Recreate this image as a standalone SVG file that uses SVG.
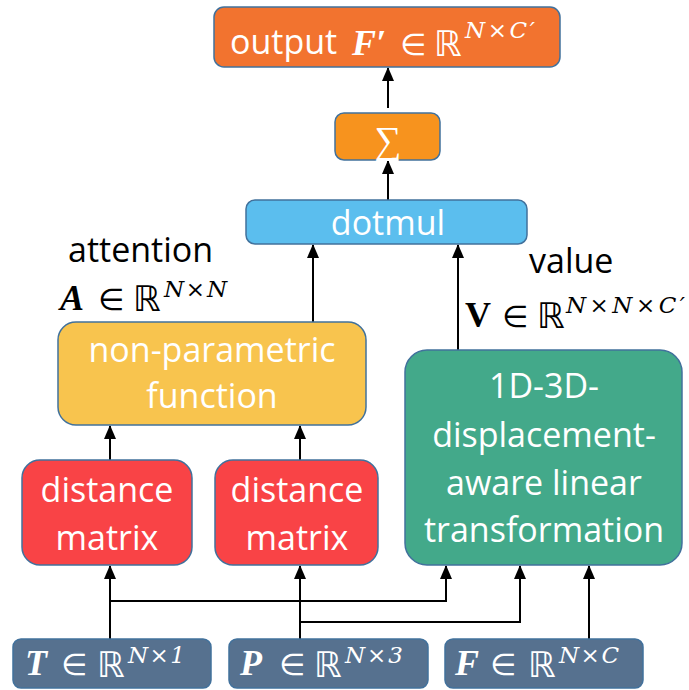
<svg xmlns="http://www.w3.org/2000/svg" width="689" height="690" viewBox="0 0 689 690">
<defs>
<marker id="ah" markerUnits="userSpaceOnUse" markerWidth="14" markerHeight="12" viewBox="0 0 14 12" refX="13" refY="6" orient="auto">
<path d="M0,0 L14,6 L0,12 Z" fill="#000"/>
</marker>
<style>
.box{stroke:#41719C;stroke-width:1.5}
.lbl{font-family:"Open Sans","Noto Sans",sans-serif;font-size:34px;fill:#fff;text-anchor:middle}
.blk{font-family:"Open Sans","Noto Sans",sans-serif;font-size:34px;fill:#000}
.m{font-family:"Liberation Serif","DejaVu Serif",serif;font-weight:bold;font-style:italic;font-size:36px}
.mv{font-family:"Liberation Serif","DejaVu Serif",serif;font-weight:bold;font-size:36px}
.e{font-family:"DejaVu Sans",sans-serif;font-size:30px}
.r{font-family:"DejaVu Sans",sans-serif;font-size:35px}
.sup{font-family:"DejaVu Serif",serif;font-style:italic;font-size:23px}
.w{fill:#fff}
.k{fill:#000}
.c{fill:none;stroke:#000;stroke-width:2}
</style>
</defs>
<g id="connectors">
<line class="c" x1="388" y1="108" x2="388" y2="68" marker-end="url(#ah)"/>
<line class="c" x1="388" y1="200" x2="388" y2="161" marker-end="url(#ah)"/>
<line class="c" x1="313" y1="322" x2="313" y2="245" marker-end="url(#ah)"/>
<line class="c" x1="458" y1="350" x2="458" y2="245" marker-end="url(#ah)"/>
<line class="c" x1="110" y1="460" x2="110" y2="426" marker-end="url(#ah)"/>
<line class="c" x1="300" y1="460" x2="300" y2="426" marker-end="url(#ah)"/>
<line class="c" x1="110" y1="639" x2="110" y2="566" marker-end="url(#ah)"/>
<line class="c" x1="300" y1="639" x2="300" y2="566" marker-end="url(#ah)"/>
<polyline class="c" points="110,601 446,601 446,566" marker-end="url(#ah)"/>
<polyline class="c" points="300,622 520,622 520,566" marker-end="url(#ah)"/>
<line class="c" x1="589" y1="639" x2="589" y2="566" marker-end="url(#ah)"/>
</g>
<g id="output">
<rect class="box" x="214" y="7" width="346" height="60" rx="10" fill="#F2732F"/>
<text class="blk" x="230" y="54" style="fill:#fff">output</text>
<text class="m w" x="352" y="55">F′</text>
<text class="e w" x="400" y="55">∈</text>
<text class="r w" x="434" y="56">ℝ</text>
<text class="sup w" x="465" y="38" textLength="70" lengthAdjust="spacing">N×C′</text>
</g>
<g id="sum">
<rect class="box" x="335" y="113" width="105" height="47" rx="9" fill="#F7931E"/>
<text x="388" y="153" text-anchor="middle" font-family="'Liberation Serif','DejaVu Serif',serif" font-size="38" fill="#fff">∑</text>
</g>
<g id="dotmul">
<rect class="box" x="246" y="200" width="281" height="44" rx="9" fill="#5BBEEE"/>
<text class="lbl" x="388" y="235">dotmul</text>
</g>
<g id="attention-label">
<text class="blk" x="68" y="262">attention</text>
<text class="m k" x="60" y="310">A</text>
<text class="e k" x="98" y="310">∈</text>
<text class="r k" x="133" y="311">ℝ</text>
<text class="sup k" x="164" y="297" textLength="63" lengthAdjust="spacing">N×N</text>
</g>
<g id="value-label">
<text class="blk" x="529" y="273">value</text>
<text class="mv k" x="465" y="327">V</text>
<text class="e k" x="502" y="327">∈</text>
<text class="r k" x="537" y="328">ℝ</text>
<text class="sup k" x="566" y="313" textLength="119" lengthAdjust="spacing">N×N×C′</text>
</g>
<g id="nonparam">
<rect class="box" x="58" y="322" width="308" height="103" rx="18" fill="#F8C44E"/>
<text class="lbl" x="212" y="362">non-parametric</text>
<text class="lbl" x="212" y="408">function</text>
</g>
<g id="linear">
<rect class="box" x="405" y="350" width="277" height="215" rx="22" fill="#43A98A"/>
<text class="lbl" x="544" y="398">1D-3D-</text>
<text class="lbl" x="544" y="447">displacement-</text>
<text class="lbl" x="544" y="495">aware linear</text>
<text class="lbl" x="544" y="542">transformation</text>
</g>
<g id="dist1">
<rect class="box" x="22" y="460" width="170" height="105" rx="18" fill="#F94346"/>
<text class="lbl" x="107" y="502">distance</text>
<text class="lbl" x="107" y="550">matrix</text>
</g>
<g id="dist2">
<rect class="box" x="215" y="460" width="163" height="105" rx="18" fill="#F94346"/>
<text class="lbl" x="297" y="502">distance</text>
<text class="lbl" x="297" y="550">matrix</text>
</g>
<g id="inT">
<rect class="box" x="13" y="639" width="198" height="49" rx="8" fill="#56718F"/>
<text class="m w" x="25" y="675">T</text>
<text class="e w" x="61" y="675">∈</text>
<text class="r w" x="97" y="677">ℝ</text>
<text class="sup w" x="128" y="663" textLength="57" lengthAdjust="spacing">N×1</text>
</g>
<g id="inP">
<rect class="box" x="229" y="639" width="199" height="49" rx="8" fill="#56718F"/>
<text class="m w" x="240" y="675">P</text>
<text class="e w" x="279" y="675">∈</text>
<text class="r w" x="314" y="677">ℝ</text>
<text class="sup w" x="345" y="663" textLength="58" lengthAdjust="spacing">N×3</text>
</g>
<g id="inF">
<rect class="box" x="445" y="639" width="198" height="49" rx="8" fill="#56718F"/>
<text class="m w" x="455" y="675">F</text>
<text class="e w" x="490" y="675">∈</text>
<text class="r w" x="528" y="677">ℝ</text>
<text class="sup w" x="559" y="663" textLength="60" lengthAdjust="spacing">N×C</text>
</g>
</svg>
